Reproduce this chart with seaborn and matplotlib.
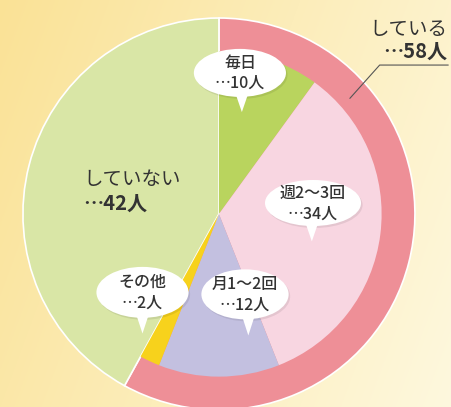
import numpy as np
import matplotlib
matplotlib.use("Agg")
import matplotlib.pyplot as plt
from matplotlib.patches import Ellipse, Polygon
import seaborn as sns

# data (people out of 100)
categories = ["毎日", "週2～3回", "月1～2回", "その他"]
counts = [10, 34, 12, 2]
doing_label = "している"
doing_total = 58
not_label = "していない"
not_total = 42
total = 100

sns.set_theme(style="white")
plt.rcParams['font.family'] = ['Noto Sans CJK JP', 'DejaVu Sans']

inner_colors = ["#b9d45e", "#f8d6e1", "#c3c0e0", "#f7d21c"]
ring_color = "#ee8f97"
not_color = "#d9e6a6"
text_color = "#333333"
dots = "\u22ef"

fig = plt.figure(figsize=(4.51, 4.07), dpi=100)
ax = fig.add_axes([0, 0, 1, 1])
ax.axis("off")

# pale yellow background
grad = np.linspace(0, 1, 256)
c0 = np.array([250, 226, 150]) / 255
c1 = np.array([254, 248, 222]) / 255
gx, gy = np.meshgrid(grad, grad)
mix = np.clip(0.75 * gx + 0.25 * (1 - gy), 0, 1)[..., None]
bg = c0 * (1 - mix) + c1 * mix
ax.imshow(bg, extent=(-1.117, 1.184, -0.985, 1.092), origin="lower", aspect="auto", zorder=0)

# outer layer: している ring + していない slice
ax.pie([doing_total, not_total], radius=1.0, colors=[ring_color, not_color],
       startangle=90, counterclock=False,
       wedgeprops=dict(edgecolor="white", linewidth=1.2))
# inner breakdown of している
ax.pie([c / total for c in counts], radius=0.83, colors=inner_colors,
       startangle=90, counterclock=False, normalize=False,
       wedgeprops=dict(edgecolor="none"))
ax.set_xlim(-1.117, 1.184)
ax.set_ylim(-0.985, 1.092)
ax.set_aspect("auto")

# speech bubbles: (center x, center y, width, height, tip x, tip y)
bubbles = {
    "毎日": (0.107, 0.72, 0.47, 0.245, 0.117, 0.52),
    "週2～3回": (0.48, 0.056, 0.49, 0.235, 0.474, -0.14),
    "月1～2回": (0.133, -0.41, 0.445, 0.255, 0.15, -0.62),
    "その他": (-0.39, -0.40, 0.47, 0.26, -0.39, -0.61),
}
for cat, n in zip(categories, counts):
    cx, cy, w, h, tx, ty = bubbles[cat]
    ax.add_patch(Ellipse((cx + 0.008, cy - 0.01), w, h, facecolor="#000000", alpha=0.08,
                         edgecolor="none", zorder=4))
    ax.add_patch(Ellipse((cx, cy), w, h, facecolor="white", edgecolor="none", zorder=5))
    ax.add_patch(Polygon([(tx - 0.035, cy - h * 0.4), (tx + 0.035, cy - h * 0.4), (tx, ty)],
                         closed=True, facecolor="white", edgecolor="none", zorder=5))
    ax.text(cx, cy + 0.05, cat, ha="center", va="center", fontsize=11.5,
            fontweight="medium", color=text_color, zorder=6)
    ax.text(cx, cy - 0.055, f"{dots}{n}人", ha="center", va="center", fontsize=11.5,
            fontweight="medium", color=text_color, zorder=6)

# していない label
ax.text(-0.69, 0.175, not_label, ha="left", va="center", fontsize=14,
        color=text_color, zorder=6)
ax.text(-0.69, 0.055, f"{dots}{not_total}人", ha="left", va="center", fontsize=14.5,
        fontweight="bold", color=text_color, zorder=6)

# している label with leader line
ax.text(1.165, 0.94, doing_label, ha="right", va="center", fontsize=14,
        color=text_color, zorder=6)
ax.text(1.165, 0.83, f"{dots}{doing_total}人", ha="right", va="center", fontsize=14.5,
        fontweight="bold", color=text_color, zorder=6)
ax.plot([1.17, 0.82, 0.668], [0.76, 0.76, 0.59], color="#555555", linewidth=0.8, zorder=6)

fig.savefig("out.png", dpi=100)
